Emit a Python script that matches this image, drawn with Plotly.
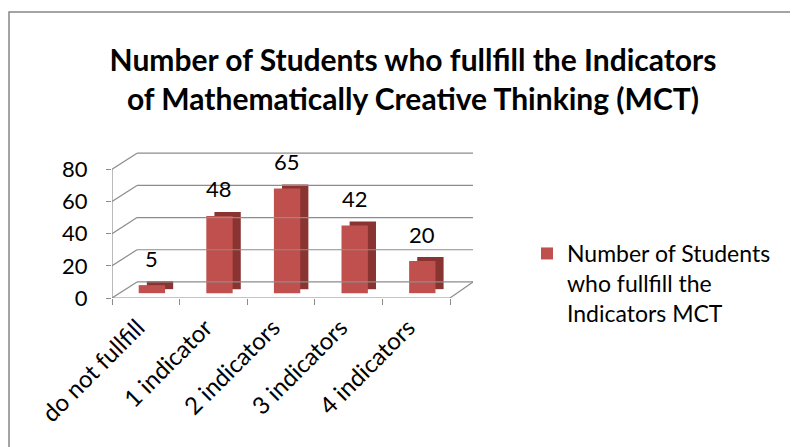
import plotly.graph_objects as go

# ---------------- data ----------------
categories = ["do not fullfill", "1 indicator", "2 indicators", "3 indicators", "4 indicators"]
values = [5, 48, 65, 42, 20]
series_name = "Number of Students<br>who fullfill the<br>Indicators MCT"
y_ticks = [0, 20, 40, 60, 80]
title_text = "Number of Students who fullfill the Indicators<br>of Mathematically Creative Thinking (MCT)"

# ---------------- layout constants ----------------
OFF = 8                     # page body margin
W_PX, H_PX = 798 - OFF, 447 - OFF
L, R, T, B = 112 - OFF, 325, 150 - OFF, 149
PW = W_PX - L - R
PH = H_PX - T - B
Y_MAX = 92
X_MIN, X_MAX = -0.5, 4.84
FONT = "Lato"
GRID = "#8c8c8c"
FRONT = "#C0504D"
SIDE = "#8A3431"

# pseudo 3-D depth (data units)
DEPTH_X = 0.37
DEPTH_Y = 10
BASE = 3
BAR_W = 0.39
BAR_SHIFT = 0.09
SIDE_DX = 0.12
SIDE_DY = 2.5


def px_x(px):
    return (px - OFF - L) / PW


def px_y(py):
    return (H_PX - B - (py - OFF)) / PH


fig = go.Figure()

# side/top faces (darker), drawn behind
fig.add_trace(go.Bar(
    x=categories, y=values, base=BASE + SIDE_DY, width=BAR_W,
    offset=-BAR_W / 2 + BAR_SHIFT + SIDE_DX,
    marker=dict(color=SIDE, line=dict(width=0)),
    showlegend=False, hoverinfo="skip",
))
# front faces
fig.add_trace(go.Bar(
    x=categories, y=values, base=BASE, width=BAR_W,
    offset=-BAR_W / 2 + BAR_SHIFT,
    marker=dict(color=FRONT, line=dict(width=0)),
    name=series_name, hoverinfo="skip",
))

shapes = []
n = len(categories)
back_left = X_MIN + DEPTH_X
# back-wall gridlines and left-wall diagonals
for v in y_ticks:
    shapes.append(dict(type="line", xref="x", yref="y", x0=back_left, x1=X_MAX,
                       y0=v + DEPTH_Y, y1=v + DEPTH_Y, line=dict(color=GRID, width=1.2)))
    shapes.append(dict(type="line", xref="x", yref="y", x0=X_MIN, x1=back_left,
                       y0=v, y1=v + DEPTH_Y, line=dict(color=GRID, width=1.2)))
# front floor edge and right floor diagonal
shapes.append(dict(type="line", xref="x", yref="y", x0=X_MIN, x1=n - 0.5, y0=0, y1=0,
                   line=dict(color=GRID, width=1.2)))
shapes.append(dict(type="line", xref="x", yref="y", x0=n - 0.5, x1=X_MAX, y0=0, y1=DEPTH_Y,
                   line=dict(color=GRID, width=1.2)))
# front vertical axis line
shapes.append(dict(type="line", xref="x", yref="y", x0=X_MIN, x1=X_MIN, y0=0, y1=y_ticks[-1],
                   line=dict(color=GRID, width=1.2)))
# chart frame
shapes.append(dict(type="rect", xref="paper", yref="paper",
                   x0=px_x(9), x1=px_x(805), y0=px_y(455), y1=px_y(12),
                   line=dict(color="#878787", width=1.5), layer="below"))

annotations = []
for i, v in enumerate(values):
    annotations.append(dict(x=i + BAR_SHIFT, y=v + BASE, xref="x", yref="y",
                            text=str(v), showarrow=False, yshift=27, yanchor="middle",
                            font=dict(family=FONT, size=22, color="black")))

fig.update_layout(
    width=W_PX, height=H_PX,
    margin=dict(l=L, r=R, t=T, b=B, pad=0, autoexpand=False),
    paper_bgcolor="white", plot_bgcolor="rgba(0,0,0,0)",
    barmode="overlay",
    shapes=shapes,
    annotations=annotations,
    title=dict(text="<b>" + title_text + "</b>", x=(413 - OFF) / W_PX, xanchor="center",
               y=1 - (71 - OFF) / H_PX, yanchor="middle", xref="container", yref="container",
               font=dict(family=FONT, size=30, color="black")),
    legend=dict(x=px_x(527), y=px_y(232), xanchor="left", yanchor="top",
                font=dict(family=FONT, size=23, color="black"), valign="top",
                bgcolor="rgba(0,0,0,0)", tracegroupgap=0),
    xaxis=dict(type="category", range=[X_MIN, X_MAX], tickson="boundaries",
               ticks="outside", ticklen=6, tickcolor=GRID, tickwidth=1.2,
               showline=False, showgrid=False, zeroline=False, tickangle=-45,
               automargin=False, ticklabelstandoff=10, ticklabelshift=-8,
               tickfont=dict(family=FONT, size=24, color="black")),
    yaxis=dict(range=[0, Y_MAX], tickvals=y_ticks, ticks="outside", ticklen=5,
               tickcolor=GRID, tickwidth=1.2, showline=False, showgrid=False,
               zeroline=False, ticklabelstandoff=14, automargin=False,
               tickfont=dict(family=FONT, size=22, color="black")),
)

fig.write_html("out.html")
